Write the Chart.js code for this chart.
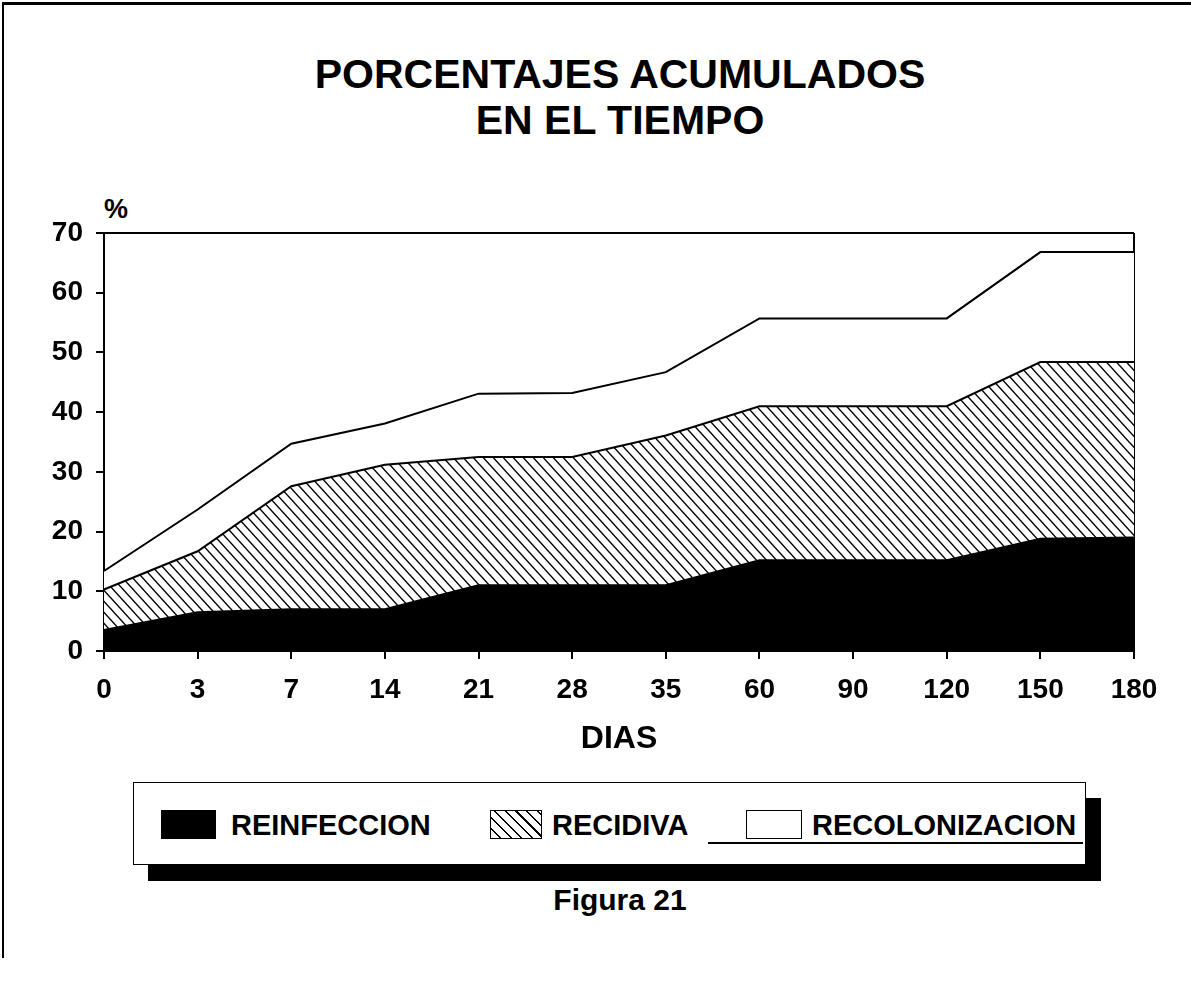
<!DOCTYPE html>
<html>
<head>
<meta charset="utf-8">
<script src="https://cdn.jsdelivr.net/npm/chart.js@4.4.1/dist/chart.umd.min.js"></script>
<style>
  html, body { margin: 0; padding: 0; background: #fff; }
  body { width: 1191px; height: 981px; position: relative; overflow: hidden;
         font-family: 'Liberation Sans', Arial, Helvetica, sans-serif; color: #000; }
  .frame { position: absolute; left: 2px; top: 2px; width: 1189px; height: 953px;
           border-top: 3px solid #000; border-left: 2px solid #000; }
  .title { position: absolute; left: 170px; top: 51px; width: 900px; text-align: center;
           font-weight: bold; font-size: 41px; line-height: 46px; white-space: nowrap; }
  .pct { position: absolute; left: 104px; top: 194px; font-weight: bold; font-size: 27px; }
  #wrap { position: absolute; left: 0; top: 190px; width: 1191px; height: 568px; }
  .legend { position: absolute; left: 133px; top: 782px; width: 951px; height: 81px;
            border: 1px solid #000; background: #fff; box-shadow: 15px 16px 0 0 #000; }
  .legend .sw { position: absolute; top: 27px; height: 29px; border: 1px solid #000; box-sizing: border-box; }
  .legend .lab { position: absolute; top: 26px; font-weight: bold; font-size: 29px; line-height: 33px; }
  .legend .uline { position: absolute; left: 574px; top: 59px; width: 375px; height: 2px; background: #000; }
  .fig { position: absolute; left: 420px; top: 883px; width: 400px; text-align: center;
         font-weight: bold; font-size: 30px; }
</style>
</head>
<body>
<div class="frame"></div>
<div class="title">PORCENTAJES ACUMULADOS<br>EN EL TIEMPO</div>
<div class="pct">%</div>
<div id="wrap"><canvas id="chart" width="1191" height="568"></canvas></div>

<div class="legend">
  <div class="sw" style="left:27px;width:55px;background:#000"></div>
  <div class="lab" style="left:97px">REINFECCION</div>
  <div class="sw" style="left:356px;width:52px;background:repeating-linear-gradient(45deg,#fff 0 6px,#000 6px 7.5px)"></div>
  <div class="lab" style="left:418px">RECIDIVA</div>
  <div class="uline"></div>
  <div class="sw" style="left:612px;width:56px;background:#fff"></div>
  <div class="lab" style="left:678px">RECOLONIZACION</div>
</div>
<div class="fig">Figura 21</div>

<script>
const DIAS = ['0', '3', '7', '14', '21', '28', '35', '60', '90', '120', '150', '180']
const REINFECCION = [3.5, 6.5, 7, 7, 11, 11, 11, 15.2, 15.2, 15.2, 18.8, 19]
const RECIDIVA = [6.8, 10.2, 20.6, 24.2, 21.5, 21.5, 25.1, 25.8, 25.8, 25.8, 29.6, 29.4]
const RECOLONIZACION = [3.1, 7.0, 7.1, 6.9, 10.6, 10.7, 10.6, 14.7, 14.7, 14.7, 18.4, 18.4]
const Y_MAX = 70

const FONT = "'Liberation Sans', Arial, Helvetica, sans-serif"
Chart.defaults.font.family = FONT
Chart.defaults.color = '#000'

// diagonal hatch for the middle band
function hatchPattern() {
  const c = document.createElement('canvas')
  c.width = 10
  c.height = 11
  const g = c.getContext('2d')
  g.fillStyle = '#fff'
  g.fillRect(0, 0, 10, 11)
  g.strokeStyle = '#000'
  g.lineWidth = 1.4
  for (const off of [-11, 0, 11]) {
    g.beginPath()
    g.moveTo(-2, off - 2.2)
    g.lineTo(12, off + 13.2)
    g.stroke()
  }
  return g.createPattern(c, 'repeat')
}

function layer(label, data, bg, fill) {
  return {
    label,
    data,
    backgroundColor: bg,
    borderColor: '#000',
    borderWidth: 2,
    fill,
    tension: 0,
    pointRadius: 0,
  }
}

new Chart(document.getElementById('chart'), {
  type: 'line',
  data: {
    labels: DIAS,
    datasets: [
      layer('REINFECCION', REINFECCION, '#000', 'origin'),
      layer('RECIDIVA', RECIDIVA, hatchPattern(), '-1'),
      layer('RECOLONIZACION', RECOLONIZACION, '#fff', '-1'),
    ],
  },
  options: {
    responsive: false,
    animation: false,
    devicePixelRatio: 1,
    layout: { padding: { top: 43, right: 57, left: 0, bottom: 0 } },
    plugins: { legend: { display: false }, tooltip: { enabled: false } },
    scales: {
      x: {
        z: 1,
        offset: false,
        border: { display: true, color: '#000', width: 2 },
        grid: {
          drawOnChartArea: true,
          color: ctx => ctx.index === DIAS.length - 1 ? '#000' : 'transparent',
          lineWidth: 2,
          tickColor: '#000',
          tickLength: 8,
        },
        ticks: { font: { size: 28, weight: 'bold' }, padding: 14, maxRotation: 0, autoSkip: false },
        title: { display: true, text: 'DIAS', font: { size: 32, weight: 'bold' }, padding: 0 },
        afterFit: s => { s.height = 107 },
      },
      y: {
        stacked: true,
        min: 0,
        max: Y_MAX,
        border: { display: true, color: '#000', width: 2 },
        grid: {
          drawOnChartArea: true,
          color: ctx => ctx.tick && ctx.tick.value === Y_MAX ? '#000' : 'transparent',
          lineWidth: 2,
          tickColor: '#000',
          tickLength: 8,
        },
        ticks: { stepSize: 10, font: { size: 28, weight: 'bold' }, padding: 13 },
        afterFit: s => { s.width = 104 },
      },
    },
  },
})
</script>
</body>
</html>
